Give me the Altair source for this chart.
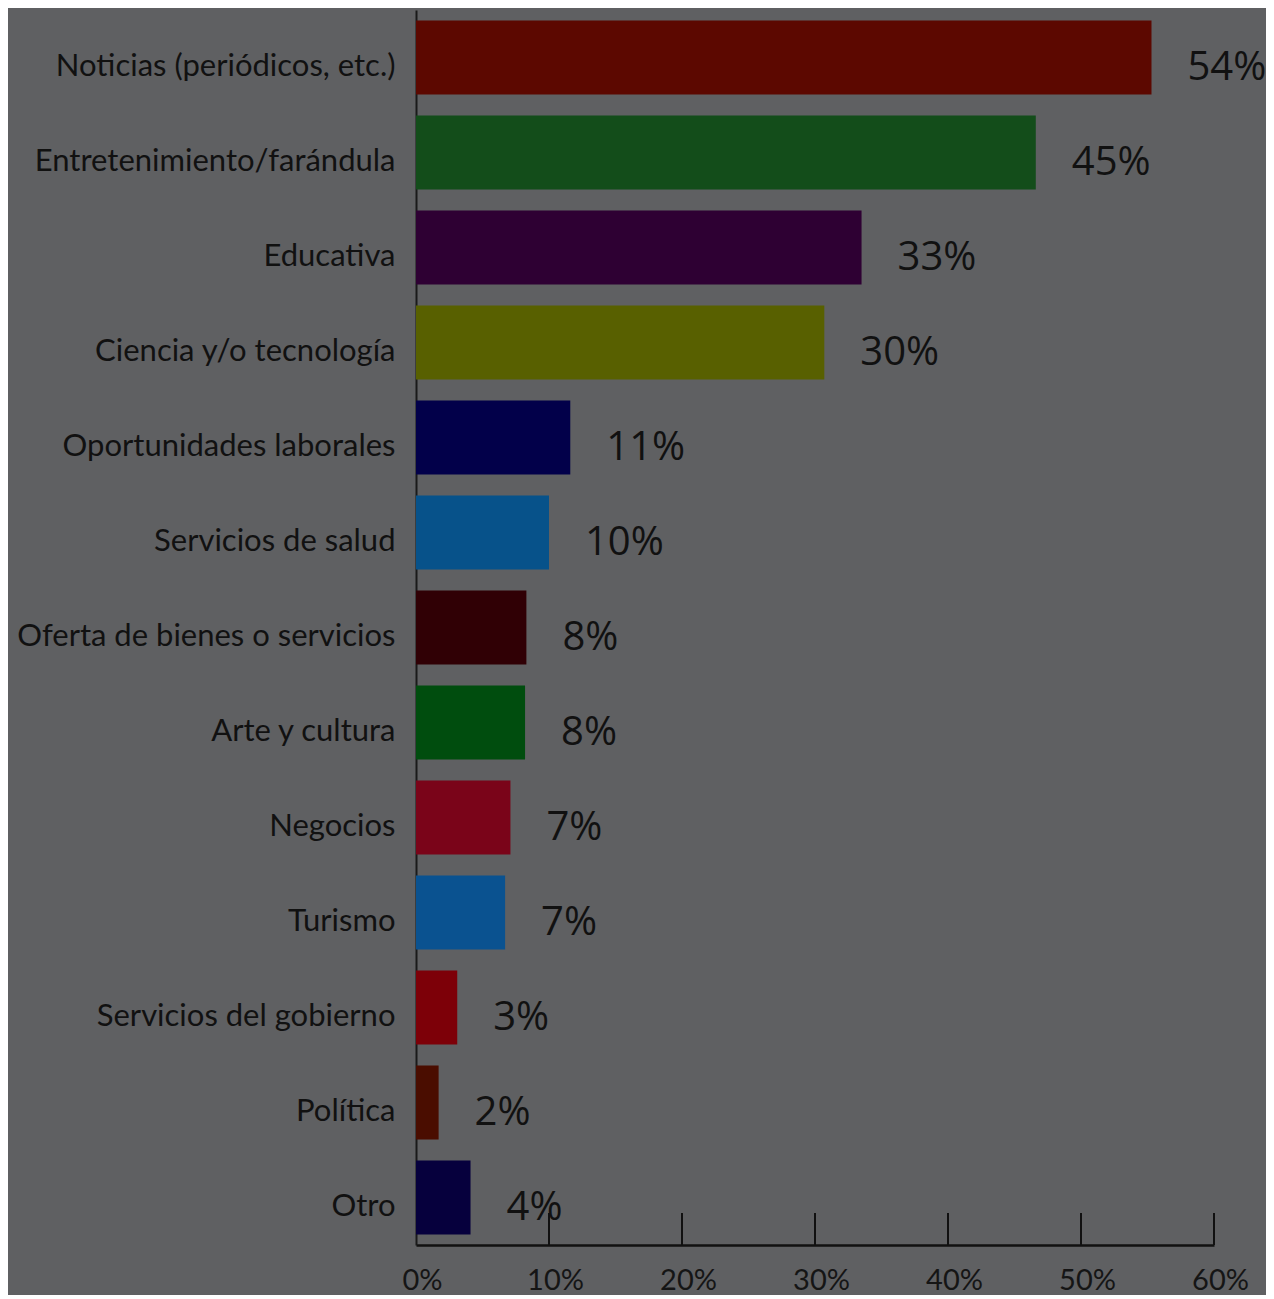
import altair as alt
import pandas as pd

categories = [
    "Noticias (periódicos, etc.)", "Entretenimiento/farándula", "Educativa",
    "Ciencia y/o tecnología", "Oportunidades laborales", "Servicios de salud",
    "Oferta de bienes o servicios", "Arte y cultura", "Negocios", "Turismo",
    "Servicios del gobierno", "Política", "Otro",
]
bar_lengths = [55.3, 46.6, 33.5, 30.7, 11.6, 10.0, 8.3, 8.2, 7.1, 6.7, 3.1, 1.7, 4.1]
value_labels = ["54%", "45%", "33%", "30%", "11%", "10%", "8%", "8%", "7%", "7%", "3%", "2%", "4%"]
colors = ["#5c0800", "#134d1a", "#2e0033", "#586000", "#02004a", "#07528a",
          "#300005", "#004d0e", "#7a0419", "#0a5290", "#7d0008", "#4a0d00", "#06003d"]
tick_values = [10, 20, 30, 40, 50, 60]

df = pd.DataFrame({"cat": categories, "v": bar_lengths, "lab": value_labels, "col": colors})
ticks = pd.DataFrame({"t": tick_values})

W, H = 798, 1235
BG = "#5f6062"
CAT_FONT = "Lato"

x = alt.X("v:Q", scale=alt.Scale(domain=[0, 60], nice=False),
          axis=alt.Axis(values=[0] + tick_values, labelExpr="datum.value + '%'",
                        ticks=False, grid=False, title=None, domainColor="#111111",
                        domainWidth=2.5, labelFont=CAT_FONT, labelFontSize=29,
                        labelColor="#151515", labelPadding=21, labelFlush=False,
                        labelOverlap=False, labelOffset=6))
y = alt.Y("cat:N", sort=categories, scale=alt.Scale(paddingInner=0.22, paddingOuter=0.11),
          axis=alt.Axis(title=None, ticks=False, domainColor="#1a1a1a", domainWidth=2,
                        labelFont=CAT_FONT, labelFontSize=31, labelColor="#111111",
                        labelPadding=21, labelLimit=400, labelOffset=9))

bars = alt.Chart(df).mark_bar().encode(x=x, y=y, color=alt.Color("col:N", scale=None))
text = alt.Chart(df).mark_text(align="left", dx=36, dy=10, font="Open Sans", fontSize=40,
                               color="#111111", baseline="middle").encode(
    x="v:Q", y=alt.Y("cat:N", sort=categories), text="lab:N")
tick_rules = alt.Chart(ticks).mark_rule(color="#111111", strokeWidth=2).encode(
    x="t:Q", y=alt.value(H - 32), y2=alt.value(H))

chart = alt.layer(bars, text, tick_rules).properties(
    width=W, height=H, background=BG,
    autosize=alt.AutoSizeParams(type="none"),
    padding={"left": 408, "top": 2, "right": 52, "bottom": 50},
).configure_view(strokeWidth=0)

chart.save("out.html", embed_options={"renderer": "svg", "actions": False})
